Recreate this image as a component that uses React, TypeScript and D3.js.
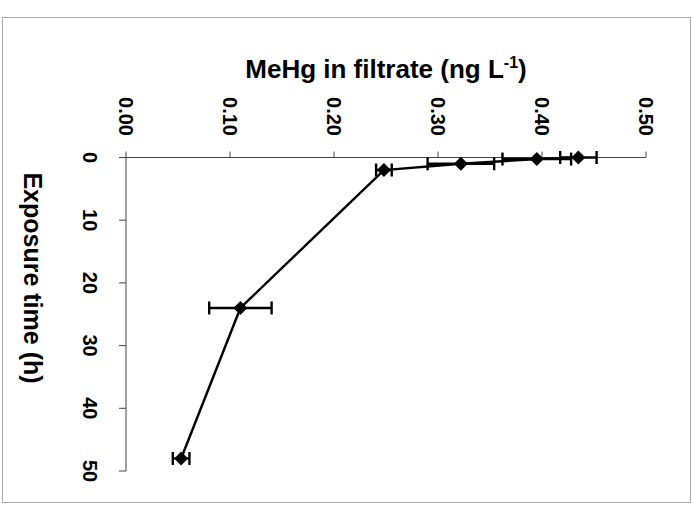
import React from "react";
import * as d3 from "d3";

const timeH = [0, 0.25, 1, 2, 24, 48];
const mehg = [0.435, 0.395, 0.322, 0.248, 0.11, 0.053];
const mehgErr = [0.0175, 0.033, 0.032, 0.0075, 0.03, 0.008];
const mehgTicks = [0, 0.1, 0.2, 0.3, 0.4, 0.5];
const timeTicks = [0, 10, 20, 30, 40, 50];

const W = 693;
const H = 505;
const FONT = "'Liberation Sans', Arial, Helvetica, sans-serif";

export default function App() {
  const x = d3.scaleLinear().domain([0, 0.5]).range([126, 646]);
  const y = d3.scaleLinear().domain([0, 50]).range([157.5, 471]);
  const pts = timeH.map((t, i) => ({ t, v: mehg[i], e: mehgErr[i] }));
  const line = d3
    .line<{ t: number; v: number }>()
    .x((d) => x(d.v))
    .y((d) => y(d.t));
  const ds = 7;
  const axisColor = "#444";
  return (
    <svg
      width={W}
      height={H}
      style={{ position: "absolute", left: 0, top: 0, background: "#fff" }}
    >
      <rect x={2.5} y={17.5} width={688} height={485} fill="#fff" stroke="#aaa" strokeWidth={1} />
      <text
        x={386}
        y={78}
        textAnchor="middle"
        fontFamily={FONT}
        fontWeight="bold"
        fontSize={26}
        fill="#000"
      >
        MeHg in filtrate (ng L
        <tspan dy={-10} fontSize={16}>-1</tspan>
        <tspan dy={10}>)</tspan>
      </text>
      <text
        transform={`translate(24, 278) rotate(90)`}
        textAnchor="middle"
        fontFamily={FONT}
        fontWeight="bold"
        fontSize={25}
        fill="#000"
      >
        Exposure time (h)
      </text>
      {/* x axis (MeHg) */}
      <line x1={x(0)} x2={x(0.5)} y1={y(0)} y2={y(0)} stroke={axisColor} strokeWidth={1} />
      {mehgTicks.map((t) => (
        <g key={"mx" + t}>
          <line x1={x(t)} x2={x(t)} y1={y(0) - 6} y2={y(0)} stroke={axisColor} strokeWidth={1} />
          <text
            transform={`translate(${x(t) - 7.5}, 136) rotate(90)`}
            textAnchor="end"
            fontFamily={FONT}
            fontWeight="bold"
            fontSize={20}
            fill="#000"
          >
            {t.toFixed(2)}
          </text>
        </g>
      ))}
      {/* y axis (time) */}
      <line x1={x(0)} x2={x(0)} y1={y(0)} y2={y(50)} stroke={axisColor} strokeWidth={1} />
      {timeTicks.map((t) => (
        <g key={"ty" + t}>
          <line x1={x(0) - 7} x2={x(0)} y1={y(t)} y2={y(t)} stroke={axisColor} strokeWidth={1} />
          <text
            transform={`translate(83, ${y(t)}) rotate(90)`}
            textAnchor="middle"
            fontFamily={FONT}
            fontWeight="bold"
            fontSize={20}
            fill="#000"
          >
            {t}
          </text>
        </g>
      ))}
      {/* error bars */}
      {pts.map((p, i) => (
        <g key={"e" + i} stroke="#000" strokeWidth={2.4}>
          <line x1={x(p.v - p.e)} x2={x(p.v + p.e)} y1={y(p.t)} y2={y(p.t)} />
          <line x1={x(p.v - p.e)} x2={x(p.v - p.e)} y1={y(p.t) - 6.5} y2={y(p.t) + 6.5} />
          <line x1={x(p.v + p.e)} x2={x(p.v + p.e)} y1={y(p.t) - 6.5} y2={y(p.t) + 6.5} />
        </g>
      ))}
      <path d={line(pts) || ""} fill="none" stroke="#000" strokeWidth={2.4} />
      {pts.map((p, i) => (
        <path
          key={"m" + i}
          d={`M${x(p.v)},${y(p.t) - ds}L${x(p.v) + ds},${y(p.t)}L${x(p.v)},${y(p.t) + ds}L${x(p.v) - ds},${y(p.t)}Z`}
          fill="#000"
        />
      ))}
    </svg>
  );
}
